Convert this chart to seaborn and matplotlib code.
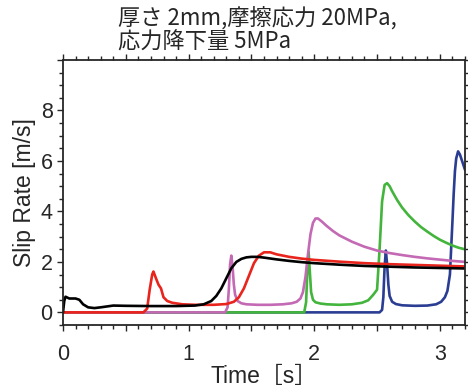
import numpy as np
import pandas as pd
import matplotlib
matplotlib.use("Agg")
import matplotlib.pyplot as plt
from matplotlib.ticker import MultipleLocator
import seaborn as sns

title = "厚さ 2mm,摩擦応力 20MPa,\n応力降下量 5MPa"

t_black = [0, 0.01, 0.02, 0.05, 0.1, 0.13, 0.16, 0.2, 0.25, 0.3, 0.4, 0.5, 0.7, 0.9, 1.05, 1.12, 1.18,
           1.22, 1.26, 1.3, 1.34, 1.38, 1.42, 1.46, 1.5, 1.55, 1.6, 1.7, 1.8, 1.9, 2.0, 2.2, 2.4, 2.6,
           2.8, 3.0, 3.2]
v_black = [0, 0.45, 0.62, 0.55, 0.55, 0.5, 0.32, 0.2, 0.17, 0.2, 0.27, 0.26, 0.25, 0.25, 0.27, 0.32, 0.45,
           0.65, 0.95, 1.35, 1.75, 2.0, 2.12, 2.18, 2.2, 2.2, 2.17, 2.1, 2.04, 1.99, 1.95, 1.89, 1.84, 1.81,
           1.78, 1.76, 1.74]

t_red = [0, 0.64, 0.67, 0.69, 0.71, 0.72, 0.74, 0.76, 0.78, 0.8, 0.83, 0.87, 0.95, 1.05, 1.2, 1.3, 1.36,
         1.4, 1.44, 1.48, 1.52, 1.56, 1.6, 1.65, 1.7, 1.8, 1.9, 2.0, 2.2, 2.4, 2.6, 2.8, 3.0, 3.2]
v_red = [0, 0, 0.15, 0.9, 1.5, 1.62, 1.35, 1.1, 0.95, 0.6, 0.45, 0.38, 0.32, 0.3, 0.3, 0.33, 0.42,
         0.6, 0.95, 1.45, 1.95, 2.25, 2.38, 2.38, 2.3, 2.2, 2.13, 2.08, 2.01, 1.95, 1.91, 1.88, 1.85, 1.82]

t_mag = [0, 1.29, 1.31, 1.32, 1.33, 1.34, 1.35, 1.36, 1.37, 1.39, 1.42, 1.46, 1.55, 1.65, 1.75, 1.82,
         1.86, 1.89, 1.91, 1.93, 1.95, 1.97, 1.99, 2.01, 2.03, 2.06, 2.1, 2.15, 2.2, 2.3, 2.4, 2.5, 2.6,
         2.7, 2.8, 2.9, 3.0, 3.1, 3.2]
v_mag = [0, 0, 0.2, 0.9, 1.9, 2.25, 1.8, 1.1, 0.7, 0.45, 0.36, 0.32, 0.3, 0.3, 0.32, 0.36,
         0.42, 0.55, 0.8, 1.4, 2.3, 3.1, 3.55, 3.72, 3.72, 3.6, 3.42, 3.22, 3.05, 2.8, 2.6, 2.45, 2.35,
         2.27, 2.2, 2.14, 2.09, 2.04, 2.0]

t_green = [0, 1.92, 1.935, 1.945, 1.955, 1.965, 1.975, 1.99, 2.01, 2.05, 2.1, 2.2, 2.3, 2.38, 2.43,
           2.47, 2.5, 2.52, 2.54, 2.56, 2.58, 2.6, 2.62, 2.66, 2.7, 2.75, 2.8, 2.85, 2.9, 2.95, 3.0,
           3.05, 3.1, 3.15, 3.2]
v_green = [0, 0, 0.4, 1.6, 2.4, 1.6, 0.8, 0.5, 0.4, 0.35, 0.32, 0.3, 0.32, 0.38, 0.48,
           0.7, 0.9, 2.5, 4.4, 5.05, 5.12, 5.0, 4.8, 4.45, 4.15, 3.85, 3.6, 3.38, 3.2, 3.03, 2.88,
           2.76, 2.65, 2.56, 2.5]

t_blue = [0, 2.52, 2.54, 2.55, 2.56, 2.57, 2.58, 2.59, 2.6, 2.62, 2.65, 2.7, 2.8, 2.9, 2.97, 3.01,
          3.04, 3.06, 3.08, 3.1, 3.11, 3.12, 3.13, 3.145, 3.16, 3.18, 3.2]
v_blue = [0, 0, 0.1, 0.6, 1.8, 2.45, 1.9, 1.1, 0.65, 0.42, 0.33, 0.28, 0.26, 0.27, 0.32, 0.42,
          0.6, 0.85, 1.5, 3.6, 4.7, 5.6, 6.1, 6.38, 6.25, 5.95, 5.65]

# drawn back to front: the later runs sit under the earlier ones along zero
series = [("blue", t_blue, v_blue, "#2a3d92"),
          ("green", t_green, v_green, "#43b43c"),
          ("magenta", t_mag, v_mag, "#c469b4"),
          ("red", t_red, v_red, "#e8241c"),
          ("black", t_black, v_black, "#000000")]

sns.set_style("ticks")
plt.rcParams["font.family"] = ["Liberation Sans", "Noto Sans CJK JP", "DejaVu Sans"]

fig = plt.figure(figsize=(4.68, 3.87), dpi=100)
ax = fig.add_axes([63 / 468, 1 - 325 / 387, (465 - 63) / 468, (325 - 60) / 387])

for name, t, v, c in series:
    df = pd.DataFrame({"t": t, "v": v})
    sns.lineplot(data=df, x="t", y="v", ax=ax, color=c, linewidth=1.9,
                 estimator=None, sort=False)

ax.set_xlim(0, 3.2)
ax.set_ylim(-0.5, 10)
ax.xaxis.set_major_locator(MultipleLocator(0.5))
ax.xaxis.set_minor_locator(MultipleLocator(0.1))
ax.xaxis.set_major_formatter(lambda x, pos: f"{x:g}" if abs(x - round(x)) < 1e-6 else "")
ax.yaxis.set_major_locator(MultipleLocator(2))
ax.yaxis.set_minor_locator(MultipleLocator(0.5))
ax.yaxis.set_major_formatter(lambda y, pos: f"{y:g}" if y < 9 else "")
ax.tick_params(which="both", direction="out", top=True, right=True, labelsize=15.5, width=1)
ax.tick_params(which="major", length=4.5)
ax.tick_params(which="minor", length=3)
ax.tick_params(axis="x", pad=9)
ax.tick_params(axis="y", pad=3)
for s in ax.spines.values():
    s.set_linewidth(1.3)
    s.set_visible(True)

ax.set_xlabel("Time［s］", fontsize=16.5, labelpad=0)
ax.set_ylabel("Slip Rate [m/s]", fontsize=16.5, labelpad=3)

fig.text(118 / 468, 1 - 6 / 387, title, ha="left", va="top", fontsize=16,
         family=["Noto Sans CJK JP", "DejaVu Sans"], linespacing=1.08)

fig.savefig("out.png", dpi=100)
